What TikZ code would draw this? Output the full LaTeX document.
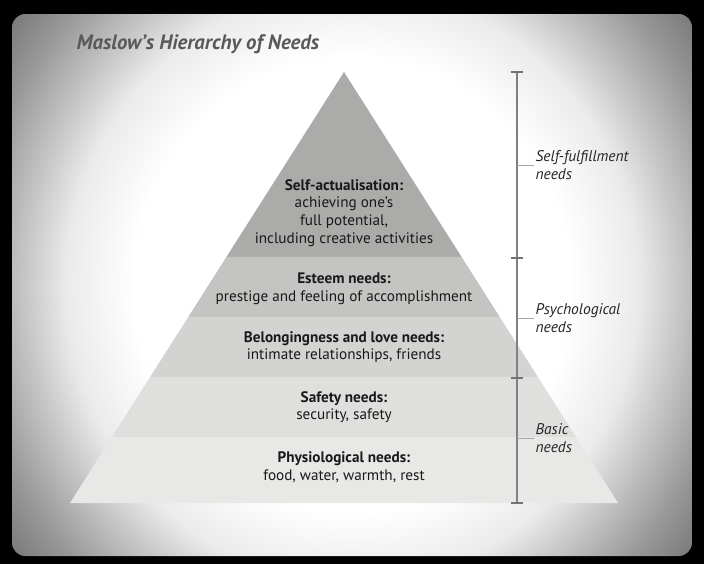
\documentclass[tikz,border=0pt]{standalone}
\usepackage{fontspec}
\setmainfont{PT Sans}
\usepackage{xcolor}
\usetikzlibrary{calc}

\definecolor{tipgray}{HTML}{ABABA9}
\definecolor{esteemgray}{HTML}{C4C4C2}
\definecolor{lovegray}{HTML}{D3D3D1}
\definecolor{safegray}{HTML}{DFDFDD}
\definecolor{basegray}{HTML}{E8E8E6}
\pgfdeclareradialshading{vignette}{\pgfpoint{0bp}{0bp}}{color(0bp)=(white); color(16bp)=(white); color(21bp)=(black!8); color(24bp)=(black!22); color(28bp)=(black!40); color(34bp)=(black!62); color(50bp)=(black!70)}

\begin{document}
\begin{tikzpicture}[x=0.75pt, y=-0.75pt,
    lvl/.style={align=center, font=\fontsize{11.4}{13.3}\selectfont, text=black!90},
    grp/.style={anchor=west, align=left, inner sep=1pt,
      font=\fontsize{11.6}{13.3}\selectfont\itshape, text=black!85},
    rail/.style={draw=gray, line width=1pt},
    tick/.style={draw=gray!90!black, line width=2pt},
    lead/.style={draw=gray!70, line width=0.5pt},
  ]
    \useasboundingbox (0,0) rectangle (704,564);

    % ═══ Frame ═══
    \fill[black] (0,0) rectangle (704,564);
    \begin{scope}
      \clip[rounded corners=10pt] (12,14) rectangle (692,556);
      \shade[shading=vignette] (12,-70) rectangle (692,640);
    \end{scope}
    \node[anchor=west, font=\fontsize{15.6}{18}\selectfont\bfseries\itshape,
      text=black!65] (title) at (72,44) {Maslow’s Hierarchy of Needs};

    % ═══ Pyramid ═══
    \coordinate (apex) at (344,72);
    \coordinate (bl) at (70,503);
    \coordinate (br) at (618,503);
    \coordinate (l1) at ($(apex)!0.4292!(bl)$);
    \coordinate (r1) at ($(apex)!0.4292!(br)$);
    \coordinate (l2) at ($(apex)!0.5684!(bl)$);
    \coordinate (r2) at ($(apex)!0.5684!(br)$);
    \coordinate (l3) at ($(apex)!0.7077!(bl)$);
    \coordinate (r3) at ($(apex)!0.7077!(br)$);
    \coordinate (l4) at ($(apex)!0.8469!(bl)$);
    \coordinate (r4) at ($(apex)!0.8469!(br)$);

    \fill[tipgray] (apex) -- (r1) -- (l1) -- cycle;
    \fill[esteemgray] (l1) -- (r1) -- (r2) -- (l2) -- cycle;
    \fill[lovegray] (l2) -- (r2) -- (r3) -- (l3) -- cycle;
    \fill[safegray] (l3) -- (r3) -- (r4) -- (l4) -- cycle;
    \fill[basegray] (l4) -- (r4) -- (br) -- (bl) -- cycle;

    % Levels
    \node[lvl] (selfact) at (344,213) {\textbf{Self-actualisation:}\\
      achieving one’s\\full potential,\\including creative activities};
    \node[lvl] (esteem) at (344,289) {\textbf{Esteem needs:}\\
      prestige and feeling of accomplishment};
    \node[lvl] (belong) at (344,347) {\textbf{Belongingness and love needs:}\\
      intimate relationships, friends};
    \node[lvl] (safety) at (344,407) {\textbf{Safety needs:}\\security, safety};
    \node[lvl] (physio) at (344,467) {\textbf{Physiological needs:}\\
      food, water, warmth, rest};

    % ═══ Bracket on the right ═══
    \coordinate (b0) at (517,72);
    \coordinate (b1) at (517,258);
    \coordinate (b2) at (517,378);
    \coordinate (b3) at (517,503);
    \coordinate (m1) at (517,165);
    \coordinate (m2) at (517,318);
    \coordinate (m3) at (517,438);

    \draw[rail] (b0) -- (b3);
    \draw[tick] ($(b0)+(-6,0)$) -- ($(b0)+(6,0)$);
    \draw[tick] ($(b1)+(-6,0)$) -- ($(b1)+(6,0)$);
    \draw[tick] ($(b2)+(-6,0)$) -- ($(b2)+(6,0)$);
    \draw[tick] ($(b3)+(-6,0)$) -- ($(b3)+(6,0)$);

    \node[grp] (lblself) at (534,165) {Self-fulfillment\\needs};
    \node[grp] (lblpsy) at (534,318) {Psychological\\needs};
    \node[grp] (lblbasic) at (534,438) {Basic\\needs};
    \draw[lead] (m1) -- (lblself.west);
    \draw[lead] (m2) -- (lblpsy.west);
    \draw[lead] (m3) -- (lblbasic.west);
  \end{tikzpicture}
\end{document}
